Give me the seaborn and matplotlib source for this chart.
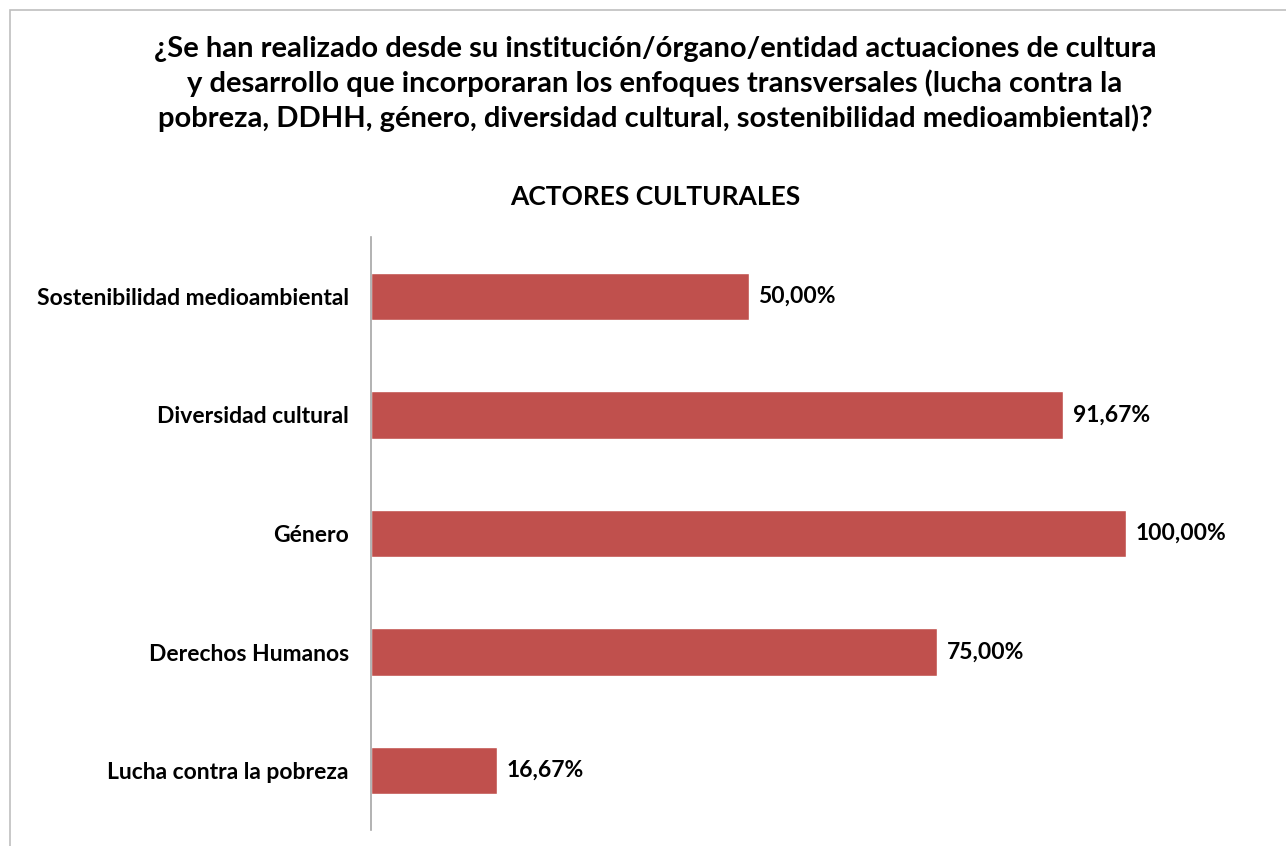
import matplotlib
matplotlib.use("Agg")
import matplotlib.pyplot as plt
import matplotlib.patches as mpatches
import seaborn as sns
import pandas as pd

categorias = [
    "Sostenibilidad medioambiental",
    "Diversidad cultural",
    "Género",
    "Derechos Humanos",
    "Lucha contra la pobreza",
]
porcentajes = [50.00, 91.67, 100.00, 75.00, 16.67]
etiquetas = ["50,00%", "91,67%", "100,00%", "75,00%", "16,67%"]

titulo = ("¿Se han realizado desde su institución/órgano/entidad actuaciones de cultura\n"
          "y desarrollo que incorporaran los enfoques transversales (lucha contra la\n"
          "pobreza, DDHH, género, diversidad cultural, sostenibilidad medioambiental)?")
subtitulo = "ACTORES CULTURALES"

sns.set_theme(style="white")
plt.rcParams["font.family"] = ["Lato", "DejaVu Sans"]

df = pd.DataFrame({"categoria": categorias, "valor": porcentajes})

W, H = 1286, 846
fig = plt.figure(figsize=(W / 100, H / 100), dpi=100)
ax = fig.add_axes([371 / W, (H - 830) / H, (1126 - 371) / W, (830 - 237) / H])

sns.barplot(data=df, y="categoria", x="valor", orient="h", color="#C0504D",
            saturation=1, width=0.4, ax=ax, order=categorias)

ax.set_xlim(0, 100)
ax.set_ylim(4.5, -0.5)
ax.set_xlabel("")
ax.set_ylabel("")
ax.set_xticks([])
for s in ["top", "right", "bottom"]:
    ax.spines[s].set_visible(False)
ax.spines["left"].set_color("#A6A6A6")
ax.spines["left"].set_linewidth(1.2)
ax.tick_params(axis="y", length=0, pad=16)
for lbl in ax.get_yticklabels():
    lbl.set_fontsize(16.5)
    lbl.set_fontweight("bold")
    lbl.set_color("black")

for i, (v, t) in enumerate(zip(porcentajes, etiquetas)):
    ax.text(v + 1.3, i, t, va="center", ha="left", fontsize=16.5,
            fontweight="bold", color="black", clip_on=False)

fig.text(655 / W, 1 - 84 / H, titulo, ha="center", va="center", fontsize=21,
         fontweight="bold", linespacing=1.32, color="black")
fig.text(655 / W, 1 - 197 / H, subtitulo, ha="center", va="center", fontsize=19,
         fontweight="bold", color="black")

# chart area frame
fig.patches.append(mpatches.Rectangle((10 / W, -0.05), 1.1, 1.05 - 10 / H,
                                      transform=fig.transFigure, fill=False,
                                      edgecolor="#BFBFBF", linewidth=1.2))

fig.savefig("out.png", dpi=100, facecolor="white")
